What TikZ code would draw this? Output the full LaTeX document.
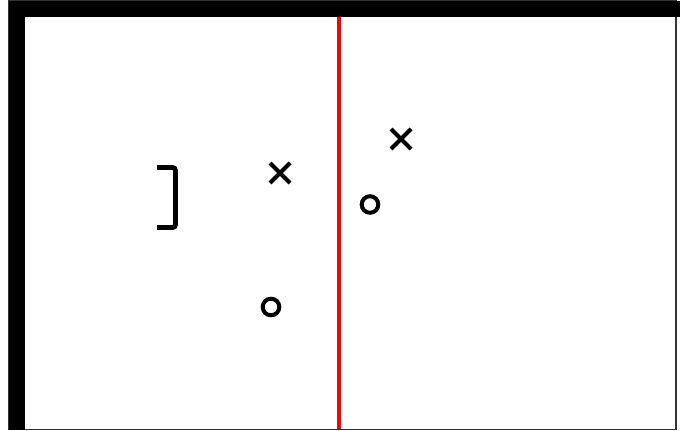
\documentclass[tikz,border=0pt]{standalone}
\usetikzlibrary{positioning}
\begin{document}
\begin{tikzpicture}[x=1pt,y=-1pt,
  markline/.style={line width=4pt},
  frameline/.style={line width=1.6pt,black!80}]
  \useasboundingbox (0,0) rectangle (680,431);
  % frame and heavy edges
  \draw[frameline] (9,1) rectangle (676,429.3);
  \fill (9,1) rectangle (680,17);
  \fill (9,1) rectangle (25,430);
  % dividing line
  \draw[red,line width=3.5pt] (339,17) -- (339,428.5);
  % bracket
  \draw[line width=4.8pt,rounded corners=3pt] (157,167.5) -- (175.5,167.5) -- (175.5,227.5) -- (157,227.5);
  % crosses and circles
  \foreach \x/\y in {280/173,401/139}
    \draw[markline] (\x-10,\y-10) -- (\x+10,\y+10) (\x-10,\y+10) -- (\x+10,\y-10);
  \foreach \x/\y in {370/204.5,271/307}
    \draw[markline] (\x,\y) circle (8.3pt);
\end{tikzpicture}
\end{document}
